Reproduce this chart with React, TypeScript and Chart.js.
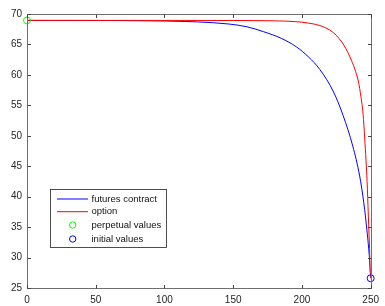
import React, { useEffect, useRef } from "react";
import { Chart, registerables } from "chart.js";

Chart.register(...registerables);

// futures contract (blue)
const futT = [0, 60, 100, 124, 147, 160, 172, 185, 196, 205, 213, 223, 230, 237, 242, 245, 247.5, 249, 250];
const futV = [68.95, 68.93, 68.85, 68.7, 68.35, 67.9, 67.1, 66.0, 64.6, 62.9, 60.9, 57.2, 53.3, 48.3, 43.4, 39.0, 34.0, 30.3, 26.6];

// option (red)
const optT = [0, 100, 150, 180, 195, 205, 213, 220, 225, 229, 232, 236, 239, 241, 243, 244.5, 245.7, 246.6, 247.4, 248.3, 249.2, 250];
const optV = [68.95, 68.95, 68.93, 68.88, 68.75, 68.5, 68.1, 67.4, 66.5, 65.4, 64.3, 62.4, 60.6, 59.0, 56.3, 53.5, 49.5, 46.0, 42.5, 37.0, 31.5, 26.6];

const perpetualT = [0];
const perpetualV = [68.95];
const initialT = [250];
const initialV = [26.6];

const xTicks = [0, 50, 100, 150, 200, 250];
const yTicks = [25, 30, 35, 40, 45, 50, 55, 60, 65, 70];

const legendLabels = ["futures contract", "option", "perpetual values", "initial values"];

const FONT = "'Liberation Sans', Arial, Helvetica, sans-serif";

const toPts = (t: number[], v: number[]) => t.map((x, i) => ({ x, y: v[i] }));

const boxPlugin = {
  id: "matlabBox",
  afterDraw(chart: any) {
    const { ctx, chartArea } = chart;
    const xs = chart.scales.x;
    const ys = chart.scales.y;
    const L = Math.round(chartArea.left) + 0.5;
    const R = Math.round(chartArea.right) + 0.5;
    const T = Math.round(chartArea.top) + 0.5;
    const B = Math.round(chartArea.bottom) + 0.5;
    ctx.save();
    ctx.strokeStyle = "#6f6f6f";
    ctx.lineWidth = 1;
    ctx.beginPath();
    ctx.rect(L, T, R - L, B - T);
    ctx.stroke();
    const tl = 3.5;
    ctx.strokeStyle = "#444";
    ctx.beginPath();
    xTicks.forEach((v) => {
      const px = Math.round(xs.getPixelForValue(v)) + 0.5;
      ctx.moveTo(px, B);
      ctx.lineTo(px, B - tl);
      ctx.moveTo(px, T);
      ctx.lineTo(px, T + tl);
    });
    yTicks.forEach((v) => {
      const py = Math.round(ys.getPixelForValue(v)) + 0.5;
      ctx.moveTo(L, py);
      ctx.lineTo(L + tl, py);
      ctx.moveTo(R, py);
      ctx.lineTo(R - tl, py);
    });
    ctx.stroke();

    // legend
    const lx = 50.5, ly = 189.5, lw = 116, lh = 58;
    ctx.fillStyle = "#fff";
    ctx.fillRect(lx, ly, lw, lh);
    ctx.strokeStyle = "#222";
    ctx.lineWidth = 0.8;
    ctx.strokeRect(lx, ly, lw, lh);
    const rows = [199, 211.7, 225, 239];
    ctx.font = `9.5px ${FONT}`;
    ctx.textBaseline = "middle";
    ctx.textAlign = "left";
    rows.forEach((ry, i) => {
      if (i === 0 || i === 1) {
        ctx.strokeStyle = i === 0 ? "#0000ff" : "#ff0000";
        ctx.lineWidth = 1;
        ctx.beginPath();
        ctx.moveTo(57, ry);
        ctx.lineTo(88, ry);
        ctx.stroke();
      } else {
        ctx.strokeStyle = i === 2 ? "#00ff00" : "#0000ff";
        ctx.lineWidth = 1;
        ctx.beginPath();
        ctx.arc(72.7, ry, 3.2, 0, Math.PI * 2);
        ctx.stroke();
      }
      ctx.fillStyle = "#111";
      ctx.fillText(legendLabels[i], 91.5, ry);
    });
    ctx.restore();
  },
};

export default function App() {
  const ref = useRef<HTMLCanvasElement>(null);
  useEffect(() => {
    if (!ref.current) return;
    const chart = new Chart(ref.current, {
      type: "line",
      data: {
        datasets: [
          {
            label: legendLabels[0],
            data: toPts(futT, futV),
            borderColor: "#0000ff",
            borderWidth: 1,
            pointRadius: 0,
            cubicInterpolationMode: "monotone",
            order: 2,
          },
          {
            label: legendLabels[1],
            data: toPts(optT, optV),
            borderColor: "#ff0000",
            borderWidth: 1,
            pointRadius: 0,
            cubicInterpolationMode: "monotone",
            order: 1,
          },
          {
            label: legendLabels[2],
            data: toPts(perpetualT, perpetualV),
            borderColor: "#00ff00",
            backgroundColor: "rgba(0,0,0,0)",
            showLine: false,
            pointRadius: 3.5,
            pointBorderWidth: 1,
            clip: false,
            order: 0,
          },
          {
            label: legendLabels[3],
            data: toPts(initialT, initialV),
            borderColor: "#0000ff",
            backgroundColor: "rgba(0,0,0,0)",
            showLine: false,
            pointRadius: 3.5,
            pointBorderWidth: 1,
            clip: false,
            order: 0,
          },
        ] as any,
      },
      options: {
        animation: false,
        responsive: false,
        layout: { padding: { left: 0, right: 9, top: 14, bottom: 0 } },
        plugins: { legend: { display: false }, tooltip: { enabled: false } },
        scales: {
          x: {
            type: "linear",
            min: 0,
            max: 250,
            afterFit: (s: any) => {
              s.height = 18;
            },
            afterBuildTicks: (s: any) => {
              s.ticks = xTicks.map((v) => ({ value: v }));
            },
            grid: { display: false, drawTicks: false },
            border: { display: false },
            ticks: { padding: 6, color: "#262626", font: { family: FONT, size: 10 }, maxRotation: 0 },
          },
          y: {
            type: "linear",
            min: 25,
            max: 70,
            afterFit: (s: any) => {
              s.width = 27;
            },
            afterBuildTicks: (s: any) => {
              s.ticks = yTicks.map((v) => ({ value: v }));
            },
            grid: { display: false, drawTicks: false },
            border: { display: false },
            ticks: { padding: 5, color: "#262626", font: { family: FONT, size: 10 } },
          },
        },
      },
      plugins: [boxPlugin],
    });
    return () => chart.destroy();
  }, []);
  return (
    <div style={{ position: "fixed", left: 0, top: 0, width: 385, height: 306, background: "#fff" }}>
      <canvas ref={ref} width={385} height={306} style={{ display: "block" }} />
    </div>
  );
}
